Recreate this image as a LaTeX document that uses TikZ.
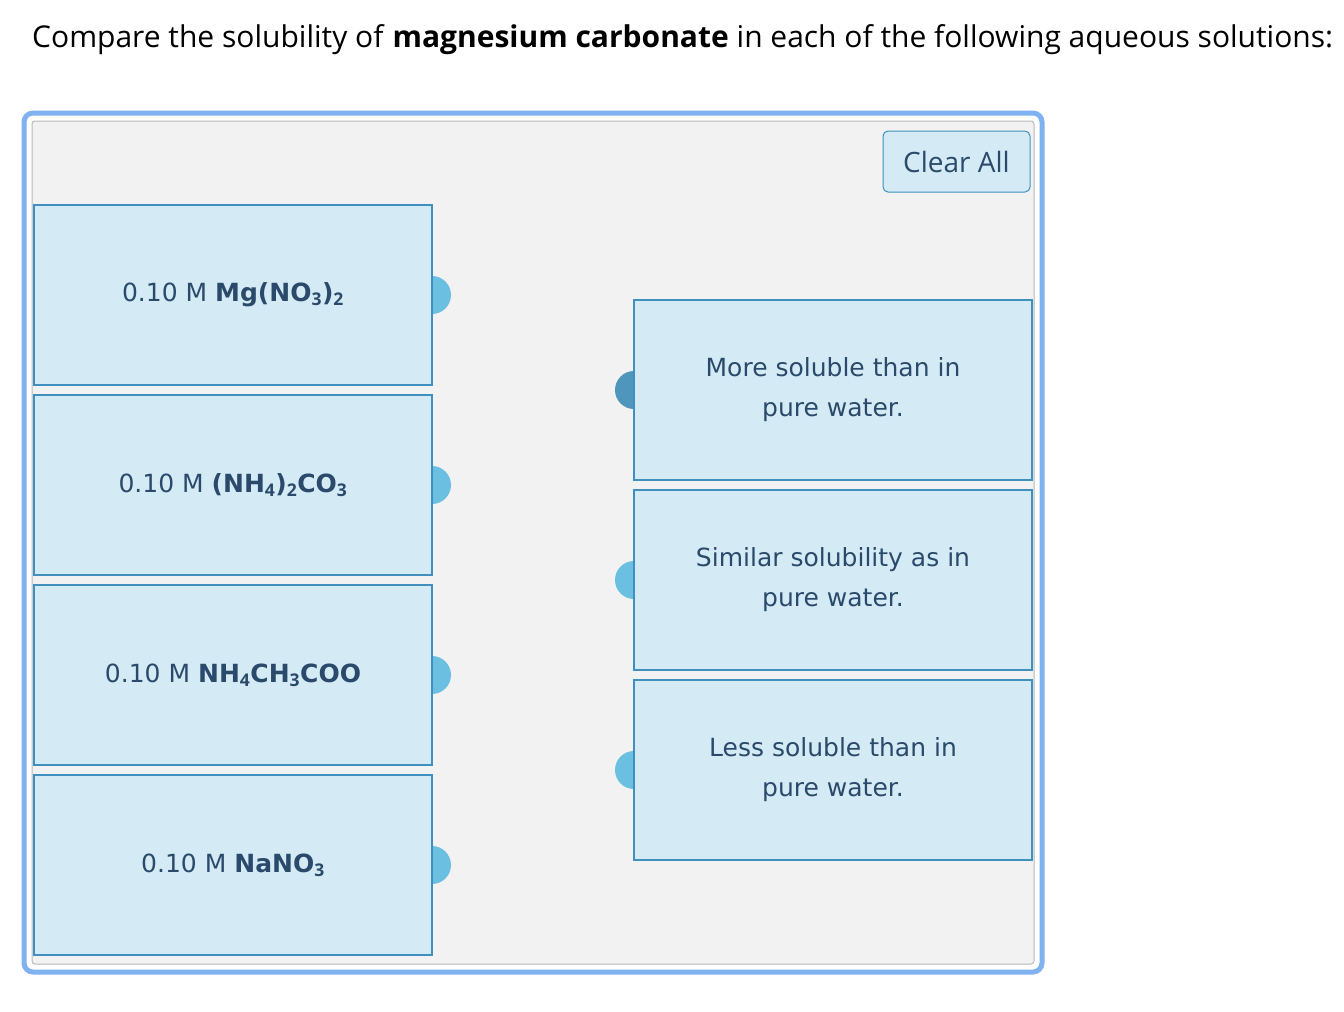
\documentclass[tikz,border=0pt]{standalone}
\usepackage{fontspec}
\setmainfont{Open Sans}
\newfontfamily\boxfont{DejaVu Sans}
\begin{document}
\begin{tikzpicture}[x=1pt,y=-1pt]
\definecolor{boxfill}{HTML}{D4EBF6}
\definecolor{boxline}{HTML}{3F8FBF}
\definecolor{txt}{HTML}{2B4A6B}
\definecolor{tab}{HTML}{6BBFE0}
\definecolor{tabdark}{HTML}{4E96BC}
\definecolor{frame}{HTML}{80B2F2}
\tikzset{cardbox/.style={draw=boxline,fill=boxfill,line width=1.2pt,minimum width=398pt,minimum height=180pt,inner sep=0pt,text=txt,font=\boxfont\fontsize{25}{40}\selectfont,align=center}}
\useasboundingbox (0,0) rectangle (1344,1012);
\fill[white] (0,0) rectangle (1344,1012);
\node[anchor=west,font=\fontsize{30}{36}\selectfont,inner sep=0pt] (title) at (32,40) {Compare the solubility of \textbf{magnesium carbonate} in each of the following aqueous solutions:};
\draw[frame,line width=5pt,rounded corners=9pt] (24,113) rectangle (1042,972);
\draw[fill=gray!10,draw=gray!55,line width=1pt,rounded corners=3pt] (32,121) rectangle (1034,964);
\node[draw=boxline,fill=boxfill,rounded corners=5pt,line width=1pt,minimum width=147pt,minimum height=61pt,text=txt,font=\fontsize{28}{32}\selectfont] (clear) at (956.5,161.5) {Clear All};
% tabs
\foreach \y in {295,485,675,865} \fill[tab] (432,\y+19) arc (90:-90:19) -- cycle;
\fill[tabdark] (634,409) arc (90:270:19) -- cycle;
\foreach \y in {580,770} \fill[tab] (634,\y+19) arc (90:270:19) -- cycle;
\node[cardbox] (l1) at (233,295) {0.10 M \textbf{Mg(NO$_\mathbf{3}$)$_\mathbf{2}$}};
\node[cardbox] (l2) at (233,485) {0.10 M \textbf{(NH$_\mathbf{4}$)$_\mathbf{2}$CO$_\mathbf{3}$}};
\node[cardbox] (l3) at (233,675) {0.10 M \textbf{NH$_\mathbf{4}$CH$_\mathbf{3}$COO}};
\node[cardbox] (l4) at (233,865) {0.10 M \textbf{NaNO$_\mathbf{3}$}};
\node[cardbox] (r1) at (833,390) {More soluble than in\\pure water.};
\node[cardbox] (r2) at (833,580) {Similar solubility as in\\pure water.};
\node[cardbox] (r3) at (833,770) {Less soluble than in\\pure water.};
\end{tikzpicture}
\end{document}
